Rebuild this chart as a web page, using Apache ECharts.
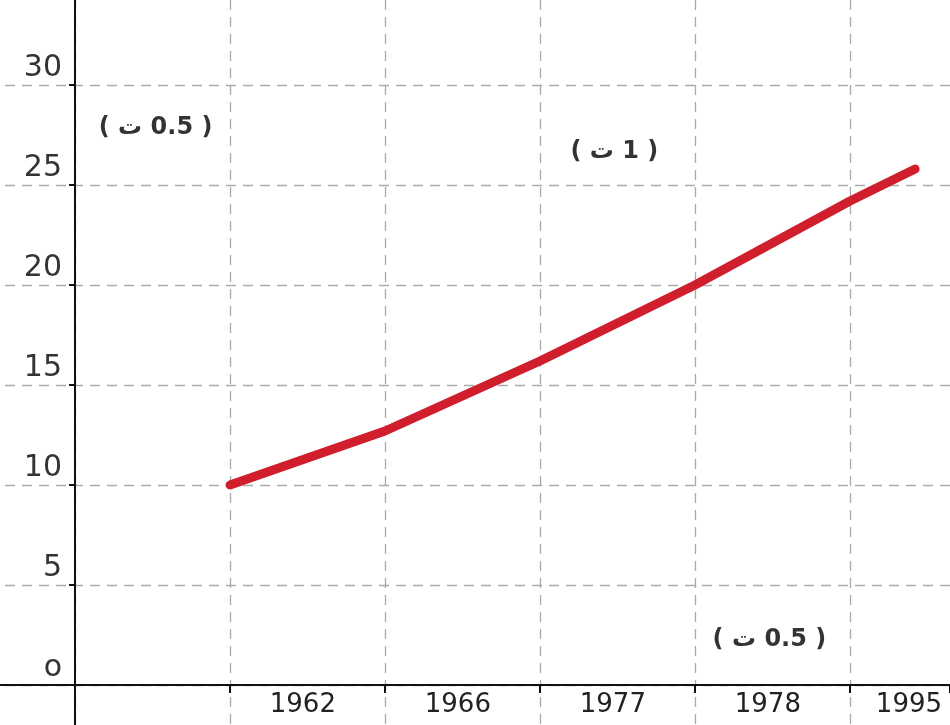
<!DOCTYPE html>
<html>
<head>
<meta charset="utf-8">
<script src="https://cdn.jsdelivr.net/npm/echarts@6/dist/echarts.min.js"></script>
<style>html,body{margin:0;padding:0;background:#fff}#c{width:950px;height:725px}</style>
</head>
<body>
<div id="c"></div>
<script>
// Category labels along the x axis
const years = ['1962', '1966', '1977', '1978', '1995'];
// Line points (x in band units, y value)
const lineX = [1, 2, 3, 4, 5, 5.42];
const lineY = [10, 12.7, 16.2, 20.0, 24.2, 25.8];
// Annotations
const noteText = ['( ت\u200E 0.5 )', '( ت\u200E 1 )', '( ت\u200E 0.5 )'];
const noteX = [0.52, 3.48, 4.48];
const noteY = [27.85, 26.65, 2.25];

const gridColor = '#aaaaaa';
const dash = {color: gridColor, width: 1.3, type: [10, 7]};
const axisCol = {color: '#111', width: 2};
const chart = echarts.init(document.getElementById('c'), null, {renderer: 'canvas'});
chart.setOption({
  animation: false,
  backgroundColor: '#fff',
  grid: [
    {left: 75, right: 0, top: 0, bottom: 40, containLabel: false, outerBoundsMode: 'none'},
    {left: -80, right: 0, top: 0, bottom: -60, containLabel: false, outerBoundsMode: 'none'}
  ],
  xAxis: [
    {
      gridIndex: 0, type: 'value', min: 0, max: 5.645, interval: 1,
      axisLine: {show: true, onZero: false, lineStyle: axisCol},
      axisTick: {show: true, length: 8, lineStyle: axisCol},
      axisLabel: {
        customValues: years.map((y, i) => Math.min(i + 1.47, 5.38)),
        formatter: v => years[Math.round(v - 1.47)] || '',
        fontFamily: 'DejaVu Sans', fontSize: 26, color: '#222', margin: 7
      },
      splitLine: {show: false}
    },
    {
      gridIndex: 1, type: 'value', min: -1, max: 5.645, interval: 1,
      axisLine: {show: true, onZero: true, lineStyle: axisCol},
      axisTick: {show: false},
      axisLabel: {show: false},
      splitLine: {show: true, showMaxLine: false, showMinLine: false, lineStyle: dash}
    }
  ],
  yAxis: [
    {
      gridIndex: 0, type: 'value', min: 0, max: 34.25, interval: 5,
      axisLine: {show: true, onZero: false, lineStyle: axisCol},
      axisTick: {show: true, length: 6, lineStyle: axisCol},
      axisLabel: {
        showMaxLabel: false,
        formatter: v => (v === 0 ? 'o' : (v > 30 ? '' : String(v))),
        fontFamily: 'DejaVu Sans', fontSize: 30, color: '#333', margin: 13,
        verticalAlign: 'bottom', padding: [0, 0, 2, 0]
      },
      splitLine: {show: false}
    },
    {
      gridIndex: 1, type: 'value', min: -5, max: 34.25, interval: 5,
      axisLine: {show: true, onZero: true, lineStyle: axisCol},
      axisTick: {show: false},
      axisLabel: {show: false},
      splitLine: {show: true, showMaxLine: false, lineStyle: dash}
    }
  ],
  series: [
    {
      type: 'line', xAxisIndex: 0, yAxisIndex: 0,
      data: lineX.map((x, i) => [x, lineY[i]]),
      symbol: 'none',
      smooth: false,
      lineStyle: {color: '#d01e2d', width: 9, cap: 'round', join: 'round'},
      z: 5
    },
    {
      type: 'scatter', xAxisIndex: 0, yAxisIndex: 0,
      symbolSize: 0,
      data: noteX.map((x, i) => ({value: [x, noteY[i]], name: noteText[i]})),
      label: {
        show: true, position: 'inside', formatter: p => p.name,
        fontFamily: 'DejaVu Sans', fontWeight: 'bold', fontSize: 24, color: '#000',
        textBorderWidth: 0
      },
      z: 6
    }
  ]
});
</script>
</body>
</html>
